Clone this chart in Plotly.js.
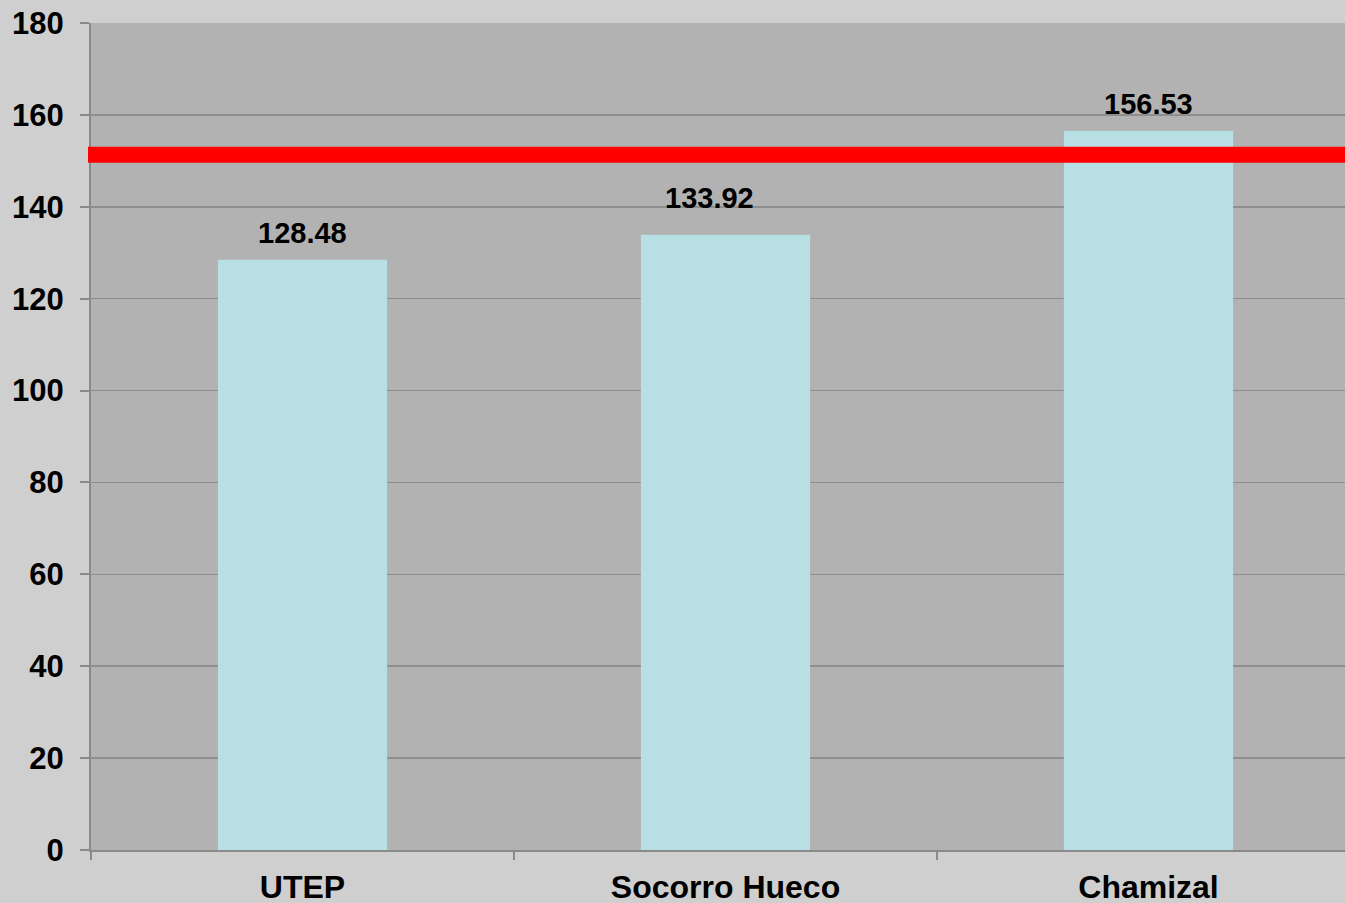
<!DOCTYPE html>
<html>
<head>
<meta charset="utf-8">
<script src="https://cdn.plot.ly/plotly-3.0.1.min.js"></script>
<style>
html, body { margin: 0; padding: 0; overflow: hidden; background: #cfcfcf; width: 1345px; height: 903px; }
#chart { width: 1360px; height: 903px; }
</style>
</head>
<body>
<div id="chart"></div>
<script>
const categories = ["UTEP", "Socorro Hueco", "Chamizal"];
const values = [128.48, 133.92, 156.53];
const valueLabels = ["128.48", "133.92", "156.53"];
const limitValue = 151.3;
const yTicks = [0, 20, 40, 60, 80, 100, 120, 140, 160, 180];

const font = "'Liberation Sans', Arial, sans-serif";
// label nudges (pixels) as placed in the original
const labelXShift = [0, -16, 0];
const labelYShift = [9, 19, 9];

const trace = {
  type: "bar",
  x: categories,
  y: values,
  marker: { color: "#b8dfe3", line: { width: 0 } },
  width: 0.4,
  hoverinfo: "skip"
};

const annotations = categories.map((c, i) => ({
  x: c, y: values[i], xref: "x", yref: "y",
  text: "<b>" + valueLabels[i] + "</b>",
  showarrow: false, yanchor: "bottom",
  xshift: labelXShift[i], yshift: labelYShift[i],
  font: { family: font, size: 29, color: "#000" }
}));

const layout = {
  width: 1360, height: 903,
  margin: { l: 91, r: 0, t: 23, b: 53 },
  paper_bgcolor: "#cfcfcf",
  plot_bgcolor: "#b2b2b2",
  showlegend: false,
  bargap: 0.6,
  xaxis: {
    type: "category",
    range: [-0.5, 2.5],
    tickson: "boundaries",
    ticks: "outside", ticklen: 8, tickwidth: 2, tickcolor: "#8a8a8a",
    showline: true, linecolor: "#8a8a8a", linewidth: 2,
    showgrid: false, zeroline: false,
    tickfont: { family: font, size: 32, color: "#000", weight: "bold" },
    ticklabelstandoff: 8
  },
  yaxis: {
    range: [0, 180],
    tickvals: yTicks,
    ticktext: yTicks.map(String),
    ticks: "outside", ticklen: 9, tickwidth: 2, tickcolor: "#8a8a8a",
    showline: true, linecolor: "#8a8a8a", linewidth: 2,
    showgrid: true, gridcolor: "#8e8e8e", gridwidth: 1.5,
    zeroline: false,
    tickfont: { family: font, size: 31, color: "#000", weight: "bold" },
    ticklabelstandoff: 10
  },
  shapes: [{
    type: "line", xref: "paper", yref: "y",
    x0: -3 / 1269, x1: 1, y0: limitValue, y1: limitValue,
    line: { color: "#ff0000", width: 16 }
  }],
  annotations: annotations
};

Plotly.newPlot("chart", [trace], layout, { displayModeBar: false, staticPlot: true });
</script>
</body>
</html>
